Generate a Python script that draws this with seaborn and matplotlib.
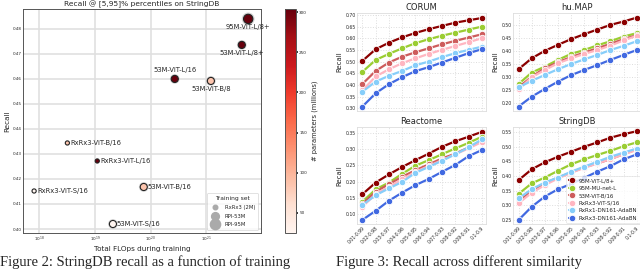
import numpy as np
import pandas as pd
import matplotlib
matplotlib.use('Agg')
import matplotlib.pyplot as plt
import seaborn as sns
from matplotlib.colors import Normalize
from matplotlib.lines import Line2D

# ---- scatter data (left figure)
models = ['95M-ViT-L/8+', '53M-ViT-L/8+', '53M-ViT-L/16', '53M-ViT-B/8', 'RxRx3-ViT-B/16',
          'RxRx3-ViT-L/16', 'RxRx3-ViT-S/16', '53M-ViT-B/16', '53M-ViT-S/16']
flops = [5.6e21, 4.3e21, 2.7e20, 1.2e21, 3.2e18, 1.1e19, 8.1e17, 7.5e19, 2.1e19]
recall = [0.484, 0.4736, 0.460, 0.4592, 0.4344, 0.4272, 0.4152, 0.4168, 0.402]
params = [304, 304, 304, 86, 86, 304, 22, 86, 22]
train_set = ['RPI-95M', 'RPI-53M', 'RPI-53M', 'RPI-53M', 'RxRx3 (2M)',
             'RxRx3 (2M)', 'RxRx3 (2M)', 'RPI-53M', 'RPI-53M']
label_pos = ['below', 'below', 'above', 'below', 'right', 'right', 'right', 'right', 'right']

# ---- recall curves (right figure)
thresholds = ['0.01-0.99', '0.02-0.98', '0.03-0.97', '0.04-0.96', '0.05-0.95',
              '0.06-0.94', '0.07-0.93', '0.08-0.92', '0.09-0.91', '0.1-0.9']
line_models = ['95M-ViT-L/8+', '95M-MU-net-L', '53M-ViT-B/16', 'RxRx3-ViT-S/16',
               'RxRx1-DN161-AdaBN', 'RxRx3-DN161-AdaBN']
line_colors = ['#8b0000', '#9acd32', '#cd5c5c', '#ffb6c1', '#87cefa', '#4169e1']

corum = [
    [0.503, 0.553, 0.581, 0.604, 0.623, 0.639, 0.653, 0.667, 0.677, 0.687],
    [0.456, 0.507, 0.533, 0.557, 0.579, 0.596, 0.611, 0.624, 0.637, 0.650],
    [0.404, 0.460, 0.496, 0.521, 0.540, 0.557, 0.574, 0.589, 0.603, 0.617],
    [0.376, 0.436, 0.467, 0.493, 0.514, 0.533, 0.550, 0.567, 0.583, 0.600],
    [0.371, 0.414, 0.439, 0.460, 0.484, 0.500, 0.519, 0.536, 0.550, 0.564],
    [0.307, 0.364, 0.403, 0.433, 0.459, 0.476, 0.496, 0.516, 0.536, 0.553],
]
humap = [
    [0.329, 0.371, 0.400, 0.423, 0.445, 0.464, 0.482, 0.500, 0.513, 0.528],
    [0.272, 0.316, 0.339, 0.365, 0.388, 0.403, 0.421, 0.437, 0.455, 0.468],
    [0.259, 0.300, 0.333, 0.356, 0.376, 0.393, 0.410, 0.427, 0.445, 0.460],
    [0.251, 0.298, 0.326, 0.352, 0.371, 0.388, 0.403, 0.420, 0.440, 0.458],
    [0.259, 0.284, 0.307, 0.329, 0.349, 0.367, 0.384, 0.403, 0.419, 0.437],
    [0.185, 0.223, 0.253, 0.281, 0.306, 0.326, 0.345, 0.365, 0.384, 0.403],
]
reactome = [
    [0.161, 0.197, 0.222, 0.245, 0.266, 0.286, 0.307, 0.324, 0.338, 0.353],
    [0.138, 0.176, 0.197, 0.224, 0.249, 0.266, 0.284, 0.302, 0.319, 0.338],
    [0.131, 0.169, 0.192, 0.215, 0.235, 0.253, 0.271, 0.286, 0.305, 0.325],
    [0.123, 0.161, 0.184, 0.207, 0.230, 0.248, 0.266, 0.284, 0.302, 0.322],
    [0.128, 0.158, 0.179, 0.199, 0.227, 0.245, 0.264, 0.284, 0.305, 0.330],
    [0.082, 0.110, 0.141, 0.166, 0.189, 0.208, 0.230, 0.251, 0.278, 0.297],
]
stringdb = [
    [0.386, 0.423, 0.447, 0.466, 0.483, 0.500, 0.515, 0.531, 0.543, 0.553],
    [0.339, 0.375, 0.395, 0.418, 0.440, 0.457, 0.472, 0.486, 0.502, 0.515],
    [0.313, 0.349, 0.375, 0.395, 0.412, 0.430, 0.443, 0.458, 0.475, 0.491],
    [0.307, 0.343, 0.369, 0.392, 0.411, 0.428, 0.443, 0.458, 0.474, 0.489],
    [0.324, 0.355, 0.378, 0.395, 0.415, 0.432, 0.449, 0.466, 0.480, 0.494],
    [0.250, 0.295, 0.330, 0.355, 0.373, 0.394, 0.415, 0.434, 0.457, 0.474],
]

sns.set_theme(style='whitegrid')
plt.rcParams['font.family'] = ['DejaVu Sans']

fig = plt.figure(figsize=(6.4, 2.7), dpi=100)

# ---------------- left: scatter
ax = fig.add_axes([0.036, 0.137, 0.372, 0.830])
sc_df = pd.DataFrame({'model': models, 'flops': flops, 'recall': recall,
                      'params': params, 'train': train_set})
size_map = {'RxRx3 (2M)': 9, 'RPI-53M': 26, 'RPI-95M': 45}
norm = Normalize(vmin=25, vmax=304)
# soft grey halo behind the big ones
big = sc_df[sc_df['train'] != 'RxRx3 (2M)']
ax.scatter(big['flops'], big['recall'], s=big['train'].map(size_map) * 1.9,
           color='#bbbbbb', alpha=0.6, linewidth=0, zorder=2)
sns.scatterplot(data=sc_df, x='flops', y='recall', hue='params', palette='Reds',
                hue_norm=norm, size='train', sizes=size_map, edgecolor='#222222',
                linewidth=0.8, legend=False, ax=ax, zorder=3)
ax.set_xscale('log')
ax.set_xlim(10**17.71, 10**21.98)
ax.set_ylim(0.3984, 0.488)
ax.set_yticks([0.40, 0.41, 0.42, 0.43, 0.44, 0.45, 0.46, 0.47, 0.48])
ax.set_xticks([1e18, 1e19, 1e20, 1e21])
ax.minorticks_off()
ax.tick_params(labelsize=3, pad=1, length=0)
ax.grid(True, color='#e0e0e0', linewidth=1.2)
for s in ax.spines.values():
    s.set_color('#555555')
    s.set_linewidth(0.7)
ax.set_title('Recall @ [5,95]% percentiles on StringDB', fontsize=5.4, pad=2)
ax.set_xlabel('Total FLOps during training', fontsize=5.2, labelpad=2)
ax.set_ylabel('Recall', fontsize=5.2, labelpad=2)

for m, fx, ry, pos in zip(models, flops, recall, label_pos):
    if pos == 'below':
        ax.annotate(m, (fx, ry), xytext=(0, -4), textcoords='offset points',
                    ha='center', va='top', fontsize=4.9, annotation_clip=False)
    elif pos == 'above':
        ax.annotate(m, (fx, ry), xytext=(0, 4), textcoords='offset points',
                    ha='center', va='bottom', fontsize=4.9)
    else:
        ax.annotate(m, (fx, ry), xytext=(2.5, 0), textcoords='offset points',
                    ha='left', va='center', fontsize=4.9)

handles = [Line2D([], [], marker='o', linestyle='', color='#aaaaaa', markeredgecolor='#aaaaaa',
                  markersize=np.sqrt(size_map[k]) * 1.1) for k in size_map]
leg = ax.legend(handles, list(size_map.keys()), title='Training set', loc='lower right',
                fontsize=3.8, title_fontsize=4.3, frameon=True, borderpad=0.6,
                labelspacing=0.7, handletextpad=0.8)
leg.get_frame().set_edgecolor('#cccccc')
leg.get_frame().set_linewidth(0.5)

# colorbar
cax = fig.add_axes([0.445, 0.137, 0.017, 0.830])
sm = plt.cm.ScalarMappable(cmap='Reds', norm=norm)
cb = fig.colorbar(sm, cax=cax)
cb.set_ticks([50, 100, 150, 200, 250, 300])
cb.ax.tick_params(labelsize=3, length=1.5, pad=1)
cb.outline.set_edgecolor('#555555')
cb.outline.set_linewidth(0.7)
cb.set_label('# parameters (millions)', fontsize=4.9, labelpad=3)

# ---------------- right: 2x2 recall curves
panels = [('CORUM', corum, [0.558, 0.589, 0.201, 0.363], (0.288, 0.7086),
           np.arange(0.30, 0.701, 0.05)),
          ('hu.MAP', humap, [0.802, 0.589, 0.199, 0.363], (0.168, 0.546),
           np.arange(0.20, 0.501, 0.05)),
          ('Reactome', reactome, [0.558, 0.170, 0.201, 0.359], (0.069, 0.3675),
           np.arange(0.10, 0.351, 0.05)),
          ('StringDB', stringdb, [0.802, 0.170, 0.199, 0.359], (0.236, 0.567),
           np.arange(0.25, 0.551, 0.05))]

for i, (name, vals, rect, ylim, yt) in enumerate(panels):
    pax = fig.add_axes(rect)
    rows = []
    for m, v in zip(line_models, vals):
        for k, r in enumerate(v):
            rows.append({'model': m, 'x': k, 'recall': r})
    ldf = pd.DataFrame(rows)
    sns.lineplot(data=ldf, x='x', y='recall', hue='model', hue_order=line_models,
                 palette=dict(zip(line_models, line_colors)), marker='o', markersize=4.6,
                 markeredgewidth=0.6, linewidth=1.6, ax=pax, legend=(i == 3))
    pax.set_xlim(-0.4, 9.3)
    pax.set_ylim(*ylim)
    pax.set_yticks(yt)
    pax.set_yticklabels([f'{t:.2f}' for t in yt])
    pax.set_xticks(range(len(thresholds)))
    if i >= 2:
        pax.set_xticklabels(thresholds, rotation=45, ha='right', rotation_mode='anchor')
    else:
        pax.set_xticklabels([])
    pax.tick_params(labelsize=3.3, pad=1, length=0)
    pax.grid(True, color='#dddddd', linestyle=':', linewidth=0.7)
    for s in pax.spines.values():
        s.set_color('#dddddd')
        s.set_linewidth(0.6)
    pax.set_title(name, fontsize=6, pad=2)
    pax.set_xlabel('')
    pax.set_ylabel('Recall', fontsize=5, labelpad=2)
    if i == 3:
        lg = pax.legend(loc='lower right', fontsize=4, frameon=True, borderpad=0.4,
                        labelspacing=0.45, handlelength=1.2, handletextpad=0.6,
                        borderaxespad=0.2)
        lg.get_frame().set_edgecolor('#dddddd')
        lg.get_frame().set_linewidth(0.5)

# captions (cut at the bottom of the page crop)
fig.text(0.0, 0.013, 'Figure 2: StringDB recall as a function of training',
         fontsize=10.5, family='Liberation Serif', va='baseline')
fig.text(0.525, 0.013, 'Figure 3: Recall across different similarity',
         fontsize=10.5, family='Liberation Serif', va='baseline')

fig.savefig('out.png', dpi=100)
